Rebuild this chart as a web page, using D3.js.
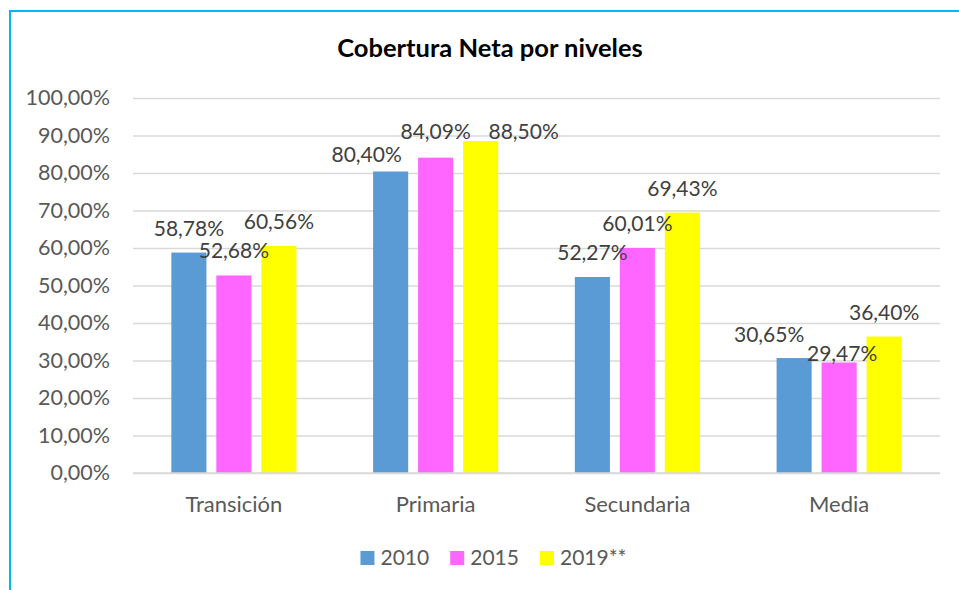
<!DOCTYPE html>
<html>
<head>
<meta charset="utf-8">
<script src="https://cdn.jsdelivr.net/npm/d3@7"></script>
<style>
  html, body { margin: 0; padding: 0; background: #fff; }
  svg { display: block; }
</style>
</head>
<body>
<svg id="chart" width="959" height="590"></svg>
<script>
// ---- data ----
const title = "Cobertura Neta por niveles";
const categories = ["Transición", "Primaria", "Secundaria", "Media"];
const seriesNames = ["2010", "2015", "2019**"];
const values2010 = [58.78, 80.40, 52.27, 30.65];
const values2015 = [52.68, 84.09, 60.01, 29.47];
const values2019 = [60.56, 88.50, 69.43, 36.40];
const labels2010 = ["58,78%", "80,40%", "52,27%", "30,65%"];
const labels2015 = ["52,68%", "84,09%", "60,01%", "29,47%"];
const labels2019 = ["60,56%", "88,50%", "69,43%", "36,40%"];
const yTicks = [0, 10, 20, 30, 40, 50, 60, 70, 80, 90, 100];
const yTickLabels = ["0,00%", "10,00%", "20,00%", "30,00%", "40,00%", "50,00%",
                     "60,00%", "70,00%", "80,00%", "90,00%", "100,00%"];

// ---- layout / style ----
const colors = ["#5B9BD5", "#FF66FF", "#FFFF00"];
// manual label nudges (as placed in the original), [category][series] -> [dx, dy]
const labelNudge = [
  [[0, 0], [0, 0], [0, 0]],
  [[-24, 7], [0, -2], [43, 15]],
  [[0, 0], [0, 0], [0, 0]],
  [[-25, 1], [3, 15.5], [0, 0]]
];
const FONT = "Lato, 'Open Sans', sans-serif";
const plot = { left: 133, right: 940, top: 98, bottom: 473 };

const svg = d3.select("#chart");
svg.append("rect").attr("width", 959).attr("height", 590).attr("fill", "#fff");

// border (top and left visible)
svg.append("line").attr("x1", 9).attr("x2", 959).attr("y1", 11).attr("y2", 11)
  .attr("stroke", "#00B8F0").attr("stroke-width", 2);
svg.append("line").attr("x1", 10).attr("x2", 10).attr("y1", 10).attr("y2", 590)
  .attr("stroke", "#00B8F0").attr("stroke-width", 2);

// title
svg.append("text").attr("x", 490).attr("y", 57).attr("text-anchor", "middle")
  .attr("font-family", FONT).attr("font-weight", "bold").attr("font-size", 25.5)
  .attr("fill", "#000").text(title);

const series = seriesNames.map((name, i) => ({
  name,
  values: [values2010, values2015, values2019][i],
  labels: [labels2010, labels2015, labels2019][i],
  color: colors[i]
}));

const y = d3.scaleLinear().domain([0, 100]).range([plot.bottom, plot.top]);
const x0 = d3.scaleBand().domain(categories).range([plot.left, plot.right])
  .paddingInner(0.38).paddingOuter(0.19);
const x1 = d3.scaleBand().domain(seriesNames).range([0, x0.bandwidth()])
  .paddingInner(0.22).paddingOuter(0);

// gridlines
const yAxis = d3.axisLeft(y).tickValues(yTicks)
  .tickSize(-(plot.right - plot.left))
  .tickFormat((d, i) => yTickLabels[i]);
const gy = svg.append("g").attr("transform", `translate(${plot.left},0)`).call(yAxis);
gy.select(".domain").remove();
gy.selectAll(".tick line").attr("stroke", "#D9D9D9").attr("stroke-width", 1.3);
gy.selectAll(".tick text").attr("x", -23).attr("font-family", FONT)
  .attr("font-size", 21.5).attr("fill", "#595959");

// bars
const groups = svg.append("g").selectAll("g").data(categories).join("g")
  .attr("transform", d => `translate(${x0(d)},0)`);
groups.selectAll("rect")
  .data((c, ci) => series.map(s => ({ s, v: s.values[ci], ci })))
  .join("rect")
  .attr("x", d => x1(d.s.name))
  .attr("width", x1.bandwidth())
  .attr("y", d => y(d.v))
  .attr("height", d => y(0) - y(d.v))
  .attr("fill", d => d.s.color);

// zero line drawn on top
svg.append("line").attr("x1", plot.left).attr("x2", plot.right)
  .attr("y1", y(0)).attr("y2", y(0)).attr("stroke", "#D9D9D9").attr("stroke-width", 1.3);

// data labels
const lab = svg.append("g");
categories.forEach((c, ci) => {
  series.forEach((s, si) => {
    const [dx, dy] = labelNudge[ci][si];
    lab.append("text")
      .attr("x", x0(c) + x1(s.name) + x1.bandwidth() / 2 + dx)
      .attr("y", y(s.values[ci]) - 17 + dy)
      .attr("text-anchor", "middle")
      .attr("font-family", FONT).attr("font-size", 21)
      .attr("fill", "#404040")
      .text(s.labels[ci]);
  });
});

// category labels
const gx = svg.append("g").attr("transform", `translate(0,${plot.bottom})`)
  .call(d3.axisBottom(x0).tickSize(0));
gx.select(".domain").remove();
gx.selectAll(".tick text").attr("y", 0).attr("dy", 39).attr("font-family", FONT)
  .attr("font-size", 22).attr("fill", "#595959");

// legend
const legend = svg.append("g");
let cx = 0;
series.forEach(s => {
  const g = legend.append("g");
  g.append("rect").attr("x", 0).attr("y", -14).attr("width", 14).attr("height", 14)
    .attr("fill", s.color);
  const t = g.append("text").attr("x", 20).attr("y", 0)
    .attr("font-family", FONT).attr("font-size", 21).attr("fill", "#595959").text(s.name);
  const w = 20 + t.node().getComputedTextLength();
  g.attr("transform", `translate(${cx},0)`);
  cx += w + 21;
});
const totalW = cx - 21;
legend.attr("transform", `translate(${493.5 - totalW / 2},565)`);
</script>
</body>
</html>
